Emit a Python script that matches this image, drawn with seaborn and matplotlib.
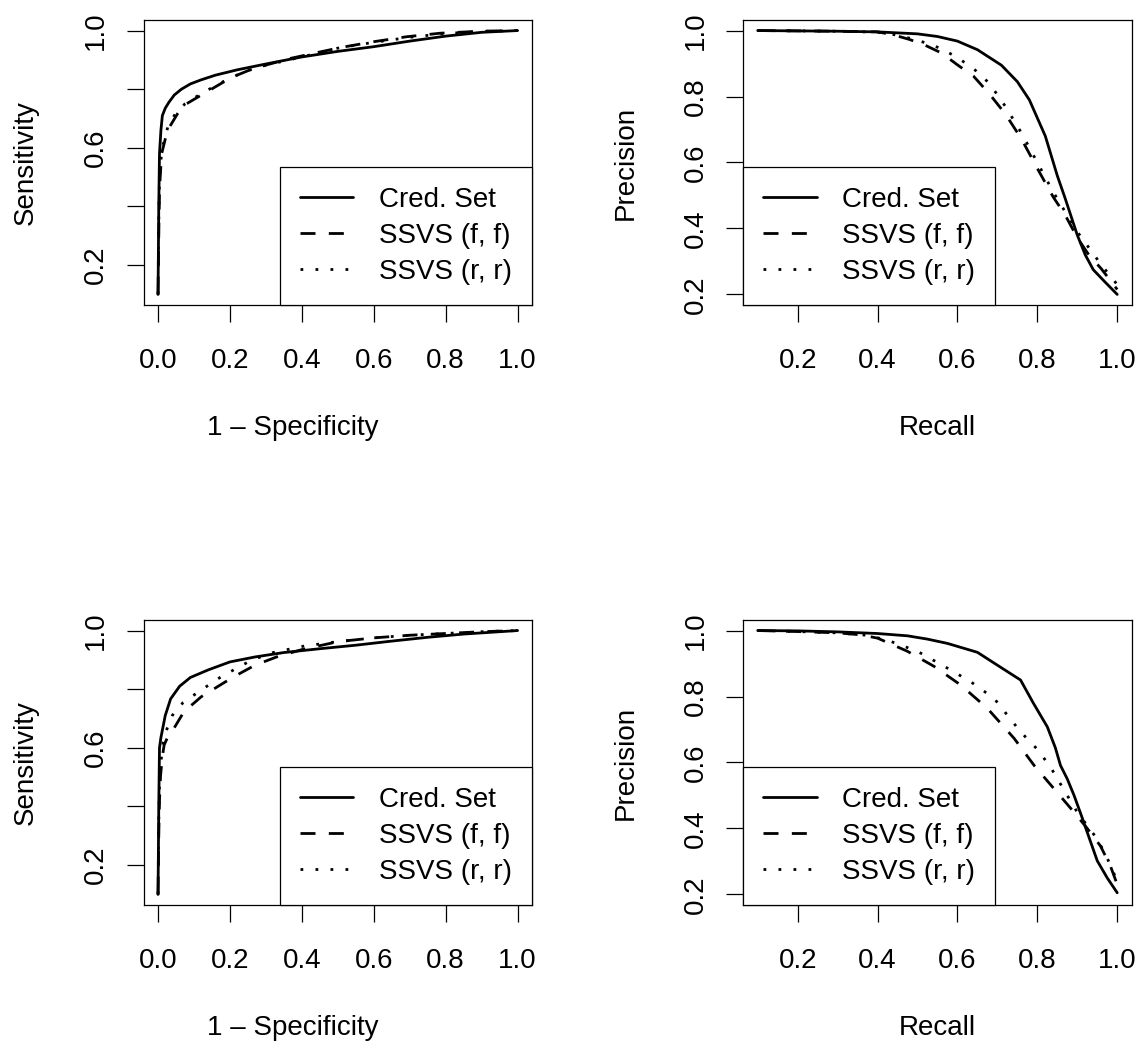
import numpy as np
import pandas as pd
import matplotlib
matplotlib.use('Agg')
import matplotlib.pyplot as plt
import seaborn as sns

sns.set_style("ticks")
plt.rcParams['font.family'] = ['Liberation Sans', 'DejaVu Sans']
plt.rcParams.update({
    'axes.edgecolor': 'black', 'axes.linewidth': 0.9,
    'xtick.color': 'black', 'ytick.color': 'black',
    'xtick.major.size': 12.2, 'ytick.major.size': 12.2,
    'xtick.major.width': 0.9, 'ytick.major.width': 0.9,
    'xtick.labelsize': 20, 'ytick.labelsize': 20,
    'axes.labelsize': 20, 'legend.fontsize': 20,
    'text.color': 'black', 'axes.labelcolor': 'black',
})

# ---- data ----
series_names = ['Cred. Set', 'SSVS (f, f)', 'SSVS (r, r)']

# top-left ROC
roc1_cred_x = [0.0, 0.002, 0.004, 0.008, 0.012, 0.02, 0.03, 0.045, 0.065, 0.09, 0.12, 0.16, 0.22, 0.3, 0.4, 0.5, 0.6, 0.7, 0.8, 0.9, 1.0]
roc1_cred_y = [0.10, 0.40, 0.58, 0.66, 0.71, 0.735, 0.755, 0.78, 0.80, 0.818, 0.832, 0.848, 0.866, 0.886, 0.91, 0.929, 0.945, 0.964, 0.981, 0.994, 1.0]
roc1_ff_x = [0.0, 0.002, 0.004, 0.006, 0.01, 0.026, 0.054, 0.072, 0.119, 0.183, 0.22, 0.266, 0.368, 0.507, 0.6, 0.692, 0.785, 0.9, 1.0]
roc1_ff_y = [0.10, 0.30, 0.45, 0.50, 0.58, 0.659, 0.716, 0.745, 0.779, 0.825, 0.848, 0.871, 0.905, 0.942, 0.962, 0.979, 0.991, 0.998, 1.0]
roc1_rr_x = [0.0, 0.002, 0.004, 0.008, 0.014, 0.028, 0.05, 0.075, 0.12, 0.18, 0.24, 0.3, 0.4, 0.5, 0.6, 0.7, 0.8, 0.9, 1.0]
roc1_rr_y = [0.10, 0.35, 0.50, 0.56, 0.61, 0.675, 0.72, 0.75, 0.785, 0.825, 0.86, 0.882, 0.91, 0.94, 0.96, 0.977, 0.99, 0.997, 1.0]

# top-right precision / recall
pr1_cred_x = [0.1, 0.2, 0.3, 0.4, 0.5, 0.55, 0.6, 0.65, 0.71, 0.75, 0.78, 0.82, 0.85, 0.87, 0.9, 0.92, 0.94, 0.97, 1.0]
pr1_cred_y = [1.0, 0.999, 0.998, 0.996, 0.99, 0.982, 0.968, 0.942, 0.895, 0.845, 0.79, 0.68, 0.56, 0.49, 0.38, 0.32, 0.275, 0.237, 0.2]
pr1_ff_x = [0.1, 0.2, 0.3, 0.4, 0.44, 0.48, 0.52, 0.56, 0.6, 0.64, 0.68, 0.72, 0.76, 0.8, 0.84, 0.87, 0.9, 0.93, 0.96, 1.0]
pr1_ff_y = [1.0, 0.999, 0.998, 0.996, 0.987, 0.973, 0.955, 0.932, 0.896, 0.862, 0.808, 0.747, 0.672, 0.582, 0.495, 0.44, 0.372, 0.318, 0.278, 0.215]
pr1_rr_x = [0.1, 0.2, 0.3, 0.4, 0.44, 0.48, 0.52, 0.56, 0.6, 0.64, 0.68, 0.72, 0.76, 0.8, 0.84, 0.87, 0.9, 0.93, 0.96, 1.0]
pr1_rr_y = [1.0, 0.999, 0.998, 0.995, 0.988, 0.977, 0.963, 0.945, 0.918, 0.885, 0.84, 0.77, 0.69, 0.6, 0.51, 0.45, 0.39, 0.34, 0.29, 0.23]

# bottom-left ROC
roc2_cred_x = [0.0, 0.002, 0.004, 0.008, 0.012, 0.02, 0.035, 0.06, 0.09, 0.14, 0.2, 0.27, 0.35, 0.45, 0.55, 0.65, 0.75, 0.85, 0.95, 1.0]
roc2_cred_y = [0.10, 0.40, 0.60, 0.635, 0.66, 0.71, 0.767, 0.81, 0.84, 0.866, 0.893, 0.91, 0.925, 0.938, 0.95, 0.964, 0.977, 0.988, 0.996, 1.0]
roc2_ff_x = [0.0, 0.002, 0.004, 0.007, 0.012, 0.017, 0.03, 0.044, 0.072, 0.12, 0.17, 0.21, 0.27, 0.33, 0.4, 0.5, 0.6, 0.7, 0.8, 0.9, 1.0]
roc2_ff_y = [0.10, 0.30, 0.42, 0.505, 0.57, 0.61, 0.645, 0.666, 0.723, 0.774, 0.812, 0.842, 0.882, 0.91, 0.935, 0.962, 0.975, 0.984, 0.99, 0.996, 1.0]
roc2_rr_x = [0.0, 0.002, 0.004, 0.008, 0.014, 0.025, 0.04, 0.07, 0.12, 0.175, 0.26, 0.32, 0.41, 0.5, 0.6, 0.7, 0.8, 0.9, 1.0]
roc2_rr_y = [0.10, 0.35, 0.48, 0.55, 0.62, 0.665, 0.711, 0.755, 0.797, 0.842, 0.899, 0.925, 0.948, 0.962, 0.975, 0.984, 0.99, 0.996, 1.0]

# bottom-right precision / recall
pr2_cred_x = [0.1, 0.2, 0.3, 0.4, 0.475, 0.525, 0.575, 0.65, 0.7, 0.758, 0.79, 0.825, 0.845, 0.858, 0.875, 0.892, 0.91, 0.925, 0.95, 0.975, 1.0]
pr2_cred_y = [1.0, 0.999, 0.996, 0.991, 0.984, 0.974, 0.961, 0.934, 0.895, 0.85, 0.78, 0.708, 0.645, 0.591, 0.55, 0.5, 0.44, 0.388, 0.302, 0.25, 0.205]
pr2_ff_x = [0.1, 0.2, 0.3, 0.358, 0.4, 0.475, 0.542, 0.608, 0.675, 0.742, 0.792, 0.842, 0.892, 0.925, 0.958, 0.983, 1.0]
pr2_ff_y = [1.0, 0.997, 0.993, 0.987, 0.977, 0.937, 0.891, 0.835, 0.764, 0.673, 0.591, 0.52, 0.449, 0.4, 0.347, 0.286, 0.23]
pr2_rr_x = [0.1, 0.2, 0.3, 0.38, 0.433, 0.5, 0.575, 0.633, 0.692, 0.758, 0.8, 0.833, 0.87, 0.9, 0.95, 0.975, 1.0]
pr2_rr_y = [1.0, 0.997, 0.993, 0.985, 0.967, 0.937, 0.886, 0.845, 0.794, 0.693, 0.64, 0.586, 0.51, 0.449, 0.368, 0.31, 0.24]

roc_xticks = [0.0, 0.2, 0.4, 0.6, 0.8, 1.0]
roc_yticks = [0.2, 0.4, 0.6, 0.8, 1.0]
roc_ylabels = ['0.2', '', '0.6', '', '1.0']
pr_ticks = [0.2, 0.4, 0.6, 0.8, 1.0]

line_styles = ['-', (0, (5.4, 4.8)), (0, (1, 4.4))]


def draw_curves(ax, curves):
    for (xs, ys), name, ls in zip(curves, series_names, line_styles):
        sns.lineplot(x=xs, y=ys, ax=ax, color='black', lw=2.0, linestyle=ls,
                     sort=False, estimator=None, label=name)


def style_axes(ax, xlabel, ylabel, xlab_x, xticks, yticks, ylabels, leg_loc):
    ax.set_xticks(xticks)
    ax.set_xticklabels([f'{t:.1f}' for t in xticks])
    ax.set_yticks(yticks)
    ax.set_yticklabels(ylabels, rotation=90, va='center')
    ax.tick_params(axis='x', pad=18.5)
    ax.tick_params(axis='y', pad=12.5)
    for s in ax.spines.values():
        s.set_visible(True)
    ax.set_xlabel(xlabel, va='top')
    ax.xaxis.set_label_coords(xlab_x, -0.387)
    ax.set_ylabel(ylabel, va='center')
    ax.yaxis.set_label_coords(-0.303, 0.5)
    leg = ax.legend(loc=leg_loc, borderaxespad=0, fancybox=False, framealpha=1,
                    edgecolor='black', handlelength=1.92, handletextpad=0.92,
                    labelspacing=0.36, borderpad=0.72)
    leg.get_frame().set_linewidth(0.9)


fig = plt.figure(figsize=(11.42, 10.42), dpi=100)
w, h = 0.340, 0.2735
ax1 = fig.add_axes([0.1258, 0.7073, w, h])
ax2 = fig.add_axes([0.6509, 0.7073, w, h])
ax3 = fig.add_axes([0.1258, 0.1315, w, h])
ax4 = fig.add_axes([0.6509, 0.1315, w, h])

draw_curves(ax1, [(roc1_cred_x, roc1_cred_y), (roc1_ff_x, roc1_ff_y), (roc1_rr_x, roc1_rr_y)])
draw_curves(ax2, [(pr1_cred_x, pr1_cred_y), (pr1_ff_x, pr1_ff_y), (pr1_rr_x, pr1_rr_y)])
draw_curves(ax3, [(roc2_cred_x, roc2_cred_y), (roc2_ff_x, roc2_ff_y), (roc2_rr_x, roc2_rr_y)])
draw_curves(ax4, [(pr2_cred_x, pr2_cred_y), (pr2_ff_x, pr2_ff_y), (pr2_rr_x, pr2_rr_y)])

for ax in (ax1, ax3):
    ax.set_xlim(-0.04, 1.04)
    ax.set_ylim(0.064, 1.036)
    style_axes(ax, '1 \u2013 Specificity', 'Sensitivity', 0.385,
               roc_xticks, roc_yticks, roc_ylabels, 'lower right')
for ax in (ax2, ax4):
    ax.set_xlim(0.064, 1.036)
    ax.set_ylim(0.168, 1.032)
    style_axes(ax, 'Recall', 'Precision', 0.5,
               pr_ticks, pr_ticks, [f'{t:.1f}' for t in pr_ticks], 'lower left')

fig.savefig('out.png', dpi=100, facecolor='white')
